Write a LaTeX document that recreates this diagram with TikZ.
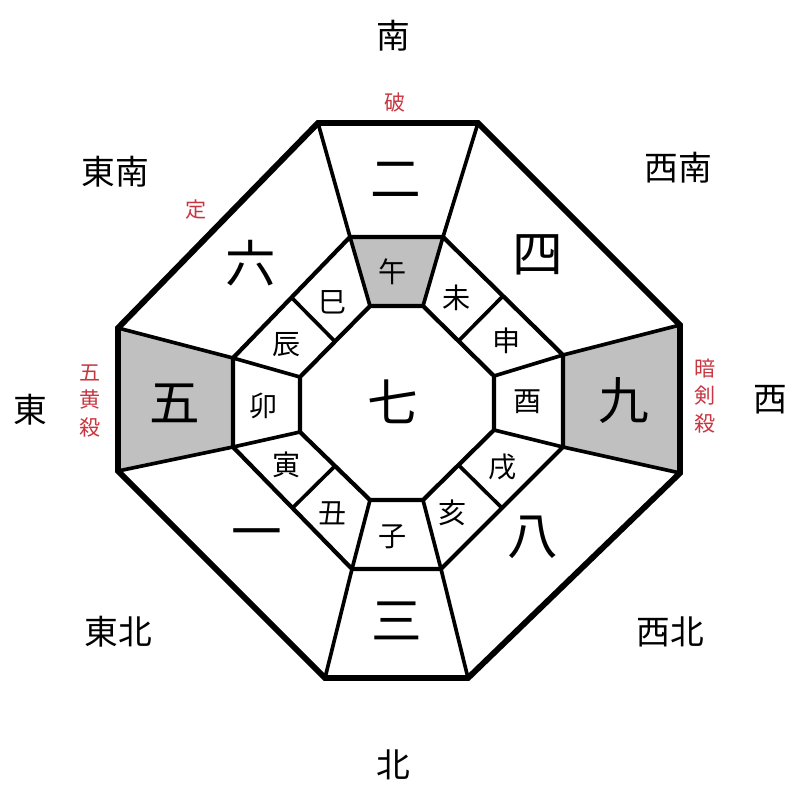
\documentclass[tikz,border=0pt]{standalone}
\usepackage{fontspec}
\newfontfamily\jpfont{Noto Sans CJK JP}
\definecolor{satsured}{RGB}{200,55,65}
\definecolor{cellgray}{RGB}{192,192,192}
\usetikzlibrary{positioning,calc}

\begin{document}
\begin{tikzpicture}[x=0.025cm, y=-0.025cm,
    kyusei/.style={font=\jpfont\fontsize{36}{36}\selectfont},
    shi/.style={font=\jpfont\fontsize{20}{20}\selectfont},
    hoi/.style={font=\jpfont\fontsize{24}{24}\selectfont},
    satsu/.style={font=\jpfont\fontsize{15}{19.5}\selectfont, text=satsured, align=center},
    waku/.style={line width=4.2pt, line join=miter},
    ring/.style={line width=3pt, line join=miter},
    sen/.style={line width=2.6pt}]
    \useasboundingbox (0,0) rectangle (800,800);

    % outer, middle and inner octagons
    \coordinate (o1) at (318,123); \coordinate (o2) at (478,123);
    \coordinate (o3) at (680,325); \coordinate (o4) at (680,473);
    \coordinate (o5) at (468,678); \coordinate (o6) at (325,678);
    \coordinate (o7) at (118,471); \coordinate (o8) at (118,328);
    \coordinate (m1) at (350,237); \coordinate (m2) at (443,237);
    \coordinate (m3) at (563,355); \coordinate (m4) at (563,447);
    \coordinate (m5) at (441,569); \coordinate (m6) at (352,569);
    \coordinate (m7) at (233,447); \coordinate (m8) at (233,358);
    \coordinate (i1) at (370,306); \coordinate (i2) at (423,306);
    \coordinate (i3) at (494,376); \coordinate (i4) at (494,430);
    \coordinate (i5) at (423,500); \coordinate (i6) at (370,500);
    \coordinate (i7) at (300,432); \coordinate (i8) at (300,377);

    % gray cells
    \fill[cellgray] (m1) -- (m2) -- (i2) -- (i1) -- cycle;
    \fill[cellgray] (o7) -- (o8) -- (m8) -- (m7) -- cycle;
    \fill[cellgray] (o3) -- (o4) -- (m4) -- (m3) -- cycle;

    \foreach \k in {1,...,8}
        \draw[sen] (o\k) -- (m\k) -- (i\k);
    \foreach \a/\b in {2/3,4/5,6/7,8/1}
        \draw[sen] ($(m\a)!0.5!(m\b)$) -- ($(i\a)!0.5!(i\b)$);
    \draw[ring] (m1) -- (m2) -- (m3) -- (m4) -- (m5) -- (m6) -- (m7) -- (m8) -- cycle;
    \draw[ring] (i1) -- (i2) -- (i3) -- (i4) -- (i5) -- (i6) -- (i7) -- (i8) -- cycle;
    \draw[waku] (o1) -- (o2) -- (o3) -- (o4) -- (o5) -- (o6) -- (o7) -- (o8) -- cycle;

    % directions
    \node[hoi] (minami) at (393,36) {南};
    \node[hoi] (kita) at (393,765) {北};
    \node[hoi] (higashi) at (30,410) {東};
    \node[hoi] (nishi) at (770,400) {西};
    \node[hoi] (tonan) at (115,172) {東南};
    \node[hoi] (seinan) at (678,168) {西南};
    \node[hoi] (tohoku) at (118,632) {東北};
    \node[hoi] (seihoku) at (670,632) {西北};

    % red marks
    \node[satsu] (ha) at (395,102) {破};
    \node[satsu] (jo) at (196,210) {定};
    \node[satsu] (gooh) at (90,401) {五\\黄\\殺};
    \node[satsu] (anken) at (705,396) {暗\\剣\\殺};

    % stars
    \node[kyusei] (n7) at (393,402) {七};
    \node[kyusei] (n2) at (396,180) {二};
    \node[kyusei] (n4) at (538,255) {四};
    \node[kyusei] (n9) at (624,401) {九};
    \node[kyusei] (n8) at (533,537) {八};
    \node[kyusei] (n3) at (397,621) {三};
    \node[kyusei] (n1) at (257,540) {一};
    \node[kyusei] (n5) at (175,403) {五};
    \node[kyusei] (n6) at (251,263) {六};

    % branches
    \node[shi] (uma) at (393,272) {午};
    \node[shi] (hitsuji) at (457,298) {未};
    \node[shi] (saru) at (507,341) {申};
    \node[shi] (tori) at (528,402) {酉};
    \node[shi] (inu) at (503,467) {戌};
    \node[shi] (i) at (453,513) {亥};
    \node[shi] (ne) at (393,537) {子};
    \node[shi] (ushi) at (333,513) {丑};
    \node[shi] (tora) at (287,465) {寅};
    \node[shi] (u) at (264,406) {卯};
    \node[shi] (tatsu) at (287,345) {辰};
    \node[shi] (mi) at (333,302) {巳};
\end{tikzpicture}
\end{document}
